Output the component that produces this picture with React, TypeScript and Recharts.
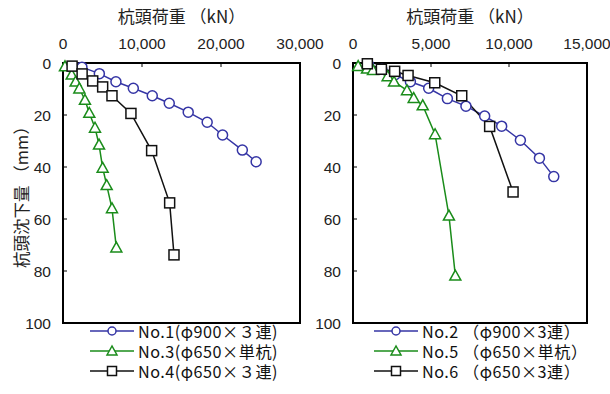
import React from "react";
import { LineChart, Line, XAxis, YAxis, Legend, ReferenceArea } from "recharts";

type Pt = { x: number; y: number };

// left panel: load (kN) vs settlement (mm)
const no1: Pt[] = [
  { x: 2400, y: 1.6 }, { x: 4600, y: 4.1 }, { x: 6700, y: 7.2 }, { x: 8900, y: 9.7 },
  { x: 11300, y: 12.6 }, { x: 13450, y: 15.5 }, { x: 15850, y: 18.9 }, { x: 18250, y: 22.8 },
  { x: 20200, y: 27.7 }, { x: 22700, y: 33.5 }, { x: 24450, y: 38.0 },
];
const no3: Pt[] = [
  { x: 250, y: 1.3 }, { x: 1100, y: 4.5 }, { x: 1600, y: 7.2 }, { x: 2070, y: 9.8 },
  { x: 2780, y: 14.2 }, { x: 3330, y: 19.2 }, { x: 4050, y: 24.9 }, { x: 4560, y: 31.4 },
  { x: 5020, y: 40.3 }, { x: 5530, y: 47.0 }, { x: 6200, y: 55.9 }, { x: 6750, y: 71.0 },
];
const no4: Pt[] = [
  { x: 1150, y: 1.2 }, { x: 2420, y: 4.2 }, { x: 3760, y: 6.9 }, { x: 5020, y: 9.2 },
  { x: 6200, y: 12.6 }, { x: 8600, y: 19.4 }, { x: 11220, y: 33.7 }, { x: 13500, y: 53.8 },
  { x: 14050, y: 73.8 },
];

// right panel
const no2: Pt[] = [
  { x: 1000, y: 0.7 }, { x: 1850, y: 2.4 }, { x: 2700, y: 4.5 }, { x: 3680, y: 7.2 },
  { x: 4850, y: 9.7 }, { x: 6050, y: 13.7 }, { x: 7240, y: 16.6 }, { x: 8440, y: 20.4 },
  { x: 9530, y: 24.3 }, { x: 10730, y: 29.7 }, { x: 11950, y: 36.6 }, { x: 12870, y: 43.7 },
];
const no5: Pt[] = [
  { x: 330, y: 1.2 }, { x: 900, y: 2.2 }, { x: 1280, y: 2.7 }, { x: 2220, y: 5.1 },
  { x: 2630, y: 7.2 }, { x: 3460, y: 10.5 }, { x: 3890, y: 13.5 }, { x: 4470, y: 16.3 },
  { x: 5260, y: 27.4 }, { x: 6150, y: 58.7 }, { x: 6560, y: 81.8 },
];
const no6: Pt[] = [
  { x: 920, y: 0.3 }, { x: 1820, y: 2.4 }, { x: 2670, y: 3.2 }, { x: 3530, y: 4.8 },
  { x: 5240, y: 7.6 }, { x: 6970, y: 12.6 }, { x: 8760, y: 24.4 }, { x: 10260, y: 49.6 },
];

const leftXTicks = [0, 10000, 20000, 30000];
const rightXTicks = [0, 5000, 10000, 15000];
const yTicks = [0, 20, 40, 60, 80, 100];

const leftNames = ["No.1(φ900×３連)", "No.3(φ650×単杭)", "No.4(φ650×３連)"];
const rightNames = ["No.2 （φ900×3連）", "No.5 （φ650×単杭）", "No.6 （φ650×3連）"];

const BLUE = "#3535a5";
const GREEN = "#1a8c1a";
const BLACK = "#111";

const FONT = "'Liberation Sans', Arial, sans-serif";
const JP = "'Noto Sans CJK JP', sans-serif";

const fmt = (v: number) => v.toLocaleString("en-US");

function Circle(props: any) {
  const { cx, cy } = props;
  if (cx == null || cy == null) return null;
  return <circle cx={cx} cy={cy} r={5} fill="#fff" stroke={BLUE} strokeWidth={1.5} />;
}
function Tri(props: any) {
  const { cx, cy } = props;
  if (cx == null || cy == null) return null;
  const s = 5.5;
  return (
    <polygon
      points={`${cx},${cy - s} ${cx - s},${cy + s * 0.8} ${cx + s},${cy + s * 0.8}`}
      fill="#fff"
      stroke={GREEN}
      strokeWidth={1.5}
    />
  );
}
function Sq(props: any) {
  const { cx, cy } = props;
  if (cx == null || cy == null) return null;
  return <rect x={cx - 5} y={cy - 5} width={10} height={10} fill="#fff" stroke={BLACK} strokeWidth={1.5} />;
}

function LegendBox({ names }: { names: string[] }) {
  const cols = [BLUE, GREEN, BLACK];
  return (
    <div style={{ fontFamily: JP, fontSize: 16.2, color: "#111", letterSpacing: 0.5 }}>
      {names.map((n, i) => (
        <div key={n} style={{ display: "flex", alignItems: "center", height: 20 }}>
          <svg width={46} height={20}>
            <line x1={0} y1={10} x2={44} y2={10} stroke={cols[i]} strokeWidth={1.5} />
            {i === 0 && <circle cx={22} cy={10} r={4} fill="#fff" stroke={cols[i]} strokeWidth={1.5} />}
            {i === 1 && <polygon points="22,5 17,14 27,14" fill="#fff" stroke={cols[i]} strokeWidth={1.5} />}
            {i === 2 && <rect x={17.5} y={5.5} width={9} height={9} fill="#fff" stroke={cols[i]} strokeWidth={1.5} />}
          </svg>
          <span style={{ marginLeft: 2, whiteSpace: "nowrap", display: "inline-block", height: 18, lineHeight: "18px", overflow: "visible" }}>
            {n}
          </span>
        </div>
      ))}
    </div>
  );
}

const tickStyle = { fontFamily: FONT, fontSize: 15.5, fill: "#222" };

function Panel(props: {
  series: Pt[][];
  names: string[];
  xMax: number;
  xTicks: number[];
  width: number;
  yWidth: number;
  marginRight: number;
  yLabel?: boolean;
  legendLeft: number;
}) {
  const { series, names, xMax, xTicks, width, yWidth, marginRight, yLabel, legendLeft } = props;
  const cols = [BLUE, GREEN, BLACK];
  const dots = [Circle, Tri, Sq];
  return (
    <LineChart width={width} height={394} margin={{ top: 0, right: marginRight, bottom: 11, left: 0 }}>
      <XAxis
        type="number"
        dataKey="x"
        orientation="top"
        domain={[0, xMax]}
        ticks={xTicks}
        tickFormatter={fmt}
        height={63}
        axisLine={{ stroke: "#000", strokeWidth: 2 }}
        tickLine={{ stroke: "#000" }}
        tickSize={-4}
        tick={tickStyle}
        tickMargin={18}
        interval={0}
        label={{
          value: "杭頭荷重 （kN）",
          position: "insideTop",
          offset: 11,
          style: { fontFamily: JP, fontSize: 17, fill: "#222" },
        }}
      />
      <YAxis
        type="number"
        dataKey="y"
        reversed
        domain={[0, 100]}
        ticks={yTicks}
        width={yWidth}
        axisLine={{ stroke: "#000", strokeWidth: 2 }}
        tickLine={{ stroke: "#000" }}
        tickSize={-4}
        tick={tickStyle}
        tickMargin={16}
        interval={0}
        label={
          yLabel
            ? {
                value: "杭頭沈下量 （mm）",
                angle: -90,
                position: "insideLeft",
                offset: 22,
                style: { fontFamily: JP, fontSize: 16.5, fill: "#222", textAnchor: "middle" },
              }
            : undefined
        }
      />
      <ReferenceArea
        x1={0}
        x2={xMax}
        y1={0}
        y2={100}
        fill="none"
        fillOpacity={0}
        stroke="#000"
        strokeWidth={2}
        strokeOpacity={1}
        ifOverflow="visible"
      />
      {series.map((d, i) => (
        <Line
          key={i}
          data={d}
          dataKey="y"
          stroke={cols[i]}
          strokeWidth={1.5}
          dot={dots[i]}
          activeDot={false}
          isAnimationActive={false}
          legendType="none"
        />
      ))}
      <Legend
        content={() => <LegendBox names={names} />}
        wrapperStyle={{ position: "absolute", left: legendLeft, top: 321, width: "auto" }}
      />
    </LineChart>
  );
}

export default function App() {
  return (
    <div style={{ position: "absolute", left: 0, top: 0, width: 610, height: 394, background: "#fff" }}>
      <div style={{ position: "absolute", left: 0, top: 0 }}>
        <Panel series={[no1, no3, no4]} names={leftNames} xMax={30000} xTicks={leftXTicks} width={335} yWidth={63} marginRight={35} yLabel legendLeft={90} />
      </div>
      <div style={{ position: "absolute", left: 305, top: 0 }}>
        <Panel series={[no2, no5, no6]} names={rightNames} xMax={15000} xTicks={rightXTicks} width={305} yWidth={48} marginRight={23} legendLeft={69} />
      </div>
    </div>
  );
}
